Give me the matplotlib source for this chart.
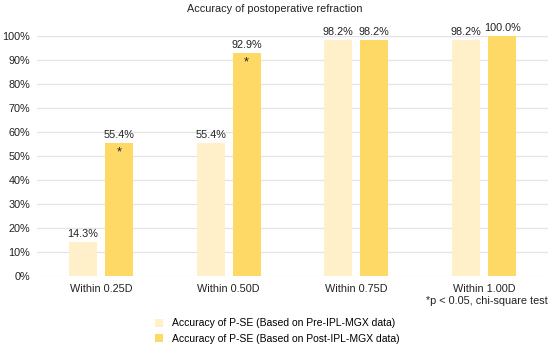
import matplotlib
matplotlib.use("Agg")
import matplotlib.pyplot as plt
import numpy as np
from matplotlib.patches import Patch

plt.rcParams['font.family'] = ['Liberation Sans', 'DejaVu Sans']

categories = ["Within 0.25D", "Within 0.50D", "Within 0.75D", "Within 1.00D"]
pre_values = [14.3, 55.4, 98.2, 98.2]
post_values = [55.4, 92.9, 98.2, 100.0]
post_significant = [True, True, False, False]
series_names = ["Accuracy of P-SE (Based on Pre-IPL-MGX data)",
                "Accuracy of P-SE (Based on Post-IPL-MGX data)"]
yticks = list(range(0, 101, 10))

c_pre = "#FFF0C9"
c_post = "#FFD966"
tc = "#222222"

fig = plt.figure(figsize=(5.5, 3.5), dpi=100)
ax = fig.add_axes([0.0673, 0.2114, 0.929, 0.6857])

x = np.arange(len(categories))
w = 0.22
off = 0.141
b1 = ax.bar(x - off, pre_values, w, color=c_pre, zorder=2)
b2 = ax.bar(x + off, post_values, w, color=c_post, zorder=2)

fs = 7.8
for rect, v in zip(b1, pre_values):
    ax.text(rect.get_x() + rect.get_width() / 2, v + 1.2, f"{v:.1f}%",
            ha="center", va="bottom", fontsize=fs, color=tc)
for rect, v, s in zip(b2, post_values, post_significant):
    ax.text(rect.get_x() + rect.get_width() / 2, v + 1.2, f"{v:.1f}%",
            ha="center", va="bottom", fontsize=fs, color=tc)
    if s:
        ax.text(rect.get_x() + rect.get_width() / 2, v - 1.5, "*",
                ha="center", va="top", fontsize=fs + 1.5, color=tc)

ax.set_xlim(-0.5, len(categories) - 0.5)
ax.set_ylim(0, 100)
ax.set_yticks(yticks)
ax.set_yticklabels([f"{t}%" for t in yticks], fontsize=fs, color=tc)
ax.set_xticks(x)
ax.set_xticklabels(categories, fontsize=fs, color=tc)
ax.tick_params(axis="y", length=0, pad=5)
ax.tick_params(axis="x", length=0, pad=6)
ax.grid(axis="y", color="#E3E3E3", linewidth=0.9, zorder=0)
ax.grid(axis="x", visible=False)
for s in ax.spines.values():
    s.set_visible(False)

fig.text(0.5, 1 - 9 / 350, "Accuracy of postoperative refraction", ha="center", va="center",
         fontsize=fs, color=tc)
fig.text(548 / 550, 1 - 301 / 350, "*p < 0.05, chi-square test", ha="right", va="center",
         fontsize=fs, color=tc)

handles = [Patch(facecolor=c_pre, edgecolor="none"), Patch(facecolor=c_post, edgecolor="none")]
fig.legend(handles, series_names, loc="center left", bbox_to_anchor=(155 / 550, 1 - 331 / 350),
           frameon=False, fontsize=7.5, handlelength=0.8, handleheight=0.8,
           handletextpad=0.8, labelspacing=0.55, borderpad=0, borderaxespad=0, ncol=1)

fig.savefig("out.png", dpi=100)
